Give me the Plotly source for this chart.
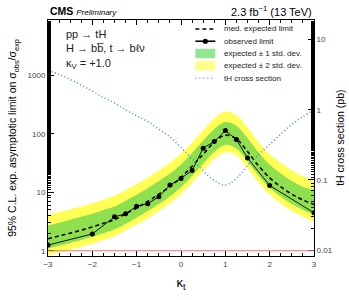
import plotly.graph_objects as go

# ---- data ----
kt_grid = [-3, -2.75, -2.5, -2.25, -2, -1.75, -1.5, -1.25, -1, -0.75, -0.5, -0.25, 0,
           0.25, 0.5, 0.75, 1, 1.25, 1.5, 1.75, 2, 2.25, 2.5, 2.75, 3]
exp_median = [1.6, 1.8, 2.0, 2.25, 2.55, 2.95, 3.4, 4.3, 5.4, 7.0, 9.3, 12.5, 18,
              28, 45, 72, 95, 82, 50, 28.4, 17.7, 12.5, 9.3, 7.4, 6.2]
exp_up1 = [2.7, 3.0, 3.4, 3.8, 4.3, 5.0, 5.7, 7.2, 9.1, 11.8, 15.6, 21, 30,
           47, 76, 121, 160, 138, 84, 48, 30, 21, 15.6, 12.4, 11.0]
exp_up2 = [4.1, 4.6, 5.1, 5.7, 6.5, 7.5, 8.7, 11, 13.8, 17.9, 23.7, 32, 46,
           71, 115, 184, 242, 209, 128, 72, 45, 32, 23.7, 18.9, 15.8]
exp_dn1 = [1.09, 1.22, 1.36, 1.53, 1.73, 2.0, 2.3, 2.9, 3.7, 4.8, 6.3, 8.5, 12.2,
           19, 31, 49, 65, 56, 34, 19.3, 12, 8.5, 6.3, 5.0, 4.2]
exp_dn2 = [0.83, 0.94, 1.04, 1.17, 1.33, 1.53, 1.77, 2.24, 2.8, 3.6, 4.8, 6.5, 9.4,
           14.6, 23.4, 37, 49, 43, 26, 14.8, 9.2, 6.5, 4.8, 3.85, 3.1]
th_xsec = [3.6, 3.2, 2.7, 2.25, 1.85, 1.5, 1.25, 1.0, 0.82, 0.68, 0.53, 0.41, 0.29,
           0.20, 0.135, 0.098, 0.085, 0.105, 0.16, 0.23, 0.32, 0.45, 0.62, 0.8, 1.0]
obs_kt = [-3, -2, -1.5, -1.25, -1, -0.75, -0.5, -0.25, 0, 0.25, 0.5, 0.75, 1, 1.25, 1.5, 2, 3]
obs_limit = [1.25, 1.94, 3.8, 4.3, 5.8, 6.4, 8.4, 13.3, 17.3, 23.6, 57, 74, 114, 80, 38.7, 13.1, 4.46]
x_ticks = [-3, -2, -1, 0, 1, 2, 3]
y_ticks = [1, 10, 100, 1000]
y2_ticks = [0.01, 0.1, 1, 10]
legend_labels = ["med. expected limit", "observed limit", "expected \u00b1 1 std. dev.",
                 "expected \u00b1 2 std. dev.", "tH cross section"]

YELLOW = "#ffff55"
GREEN = "#8fe04f"
LEG_YELLOW = "#ffff88"
LEG_GREEN = "#92e892"
BLUE = "#4a8fd0"
FONT = "Liberation Sans, Arial, sans-serif"

fig = go.Figure()
# 2 sigma band
fig.add_trace(go.Scatter(x=kt_grid, y=exp_dn2, mode="lines", line=dict(width=0, shape="spline"),
                         showlegend=False, hoverinfo="skip"))
fig.add_trace(go.Scatter(x=kt_grid, y=exp_up2, mode="lines", line=dict(width=0, shape="spline"),
                         fill="tonexty", fillcolor=YELLOW, showlegend=False))
# 1 sigma band
fig.add_trace(go.Scatter(x=kt_grid, y=exp_dn1, mode="lines", line=dict(width=0, shape="spline"),
                         showlegend=False, hoverinfo="skip"))
fig.add_trace(go.Scatter(x=kt_grid, y=exp_up1, mode="lines", line=dict(width=0, shape="spline"),
                         fill="tonexty", fillcolor=GREEN, showlegend=False))
# median expected
fig.add_trace(go.Scatter(x=kt_grid, y=exp_median, mode="lines",
                         line=dict(color="black", width=1.6, dash="4px,3px", shape="spline"),
                         showlegend=False))
# observed
fig.add_trace(go.Scatter(x=obs_kt, y=obs_limit, mode="lines+markers",
                         line=dict(color="black", width=0.9),
                         marker=dict(color="black", size=5, symbol="circle"),
                         showlegend=False))
# tH cross section (right axis)
fig.add_trace(go.Scatter(x=kt_grid, y=th_xsec, mode="lines", yaxis="y2",
                         line=dict(color=BLUE, width=1.6, dash="1px,2.5px", shape="spline"),
                         showlegend=False))

fig.add_shape(type="line", xref="x", yref="y", x0=-3, x1=3, y0=1, y1=1,
              line=dict(color="#e07a7a", width=1.2))

# ---- manual legend (paper coordinates) ----
lx0, lx1, ltx = 0.554, 0.629, 0.655
rows = [0.962, 0.910, 0.858, 0.806, 0.754]
annots = []
fig.add_shape(type="line", xref="paper", yref="paper", x0=lx0, x1=lx1, y0=rows[0], y1=rows[0],
              line=dict(color="black", width=1.6, dash="4px,3px"))
fig.add_shape(type="line", xref="paper", yref="paper", x0=lx0, x1=lx1, y0=rows[1], y1=rows[1],
              line=dict(color="black", width=1.6))
fig.add_shape(type="circle", xref="paper", yref="paper", fillcolor="black", line=dict(width=0),
              x0=(lx0 + lx1) / 2 - 0.01, x1=(lx0 + lx1) / 2 + 0.01,
              y0=rows[1] - 0.011, y1=rows[1] + 0.011)
fig.add_shape(type="rect", xref="paper", yref="paper", x0=lx0, x1=lx1,
              y0=rows[2] - 0.02, y1=rows[2] + 0.02, fillcolor=LEG_GREEN, line=dict(width=0))
fig.add_shape(type="rect", xref="paper", yref="paper", x0=lx0, x1=lx1,
              y0=rows[3] - 0.02, y1=rows[3] + 0.02, fillcolor=LEG_YELLOW, line=dict(width=0))
fig.add_shape(type="line", xref="paper", yref="paper", x0=lx0, x1=lx1, y0=rows[4], y1=rows[4],
              line=dict(color=BLUE, width=1.3, dash="1px,3px"))
for lab, ry in zip(legend_labels, rows):
    annots.append(dict(text=lab, xref="paper", yref="paper", x=ltx, y=ry, xanchor="left",
                       yanchor="middle", showarrow=False, font=dict(size=8, color="#222")))

axis_common = dict(showline=True, linecolor="black", linewidth=1, ticks="inside",
                   tickcolor="black", showgrid=False, zeroline=False,
                   tickfont=dict(size=8, color="#444", family=FONT))

fig.update_layout(
    width=349, height=300,
    margin=dict(l=47, r=35, t=20, b=42),
    paper_bgcolor="white", plot_bgcolor="white",
    font=dict(family=FONT, color="black"),
    showlegend=False,
    hovermode=False,
    xaxis=dict(range=[-3, 3], tickvals=x_ticks, ticklen=5, mirror="ticks",
               minor=dict(ticks="inside", ticklen=3, dtick=0.25, tickcolor="black"),
               title=dict(text="\u03ba<sub>t</sub>", font=dict(size=13, color="black"), standoff=10),
               **axis_common),
    yaxis=dict(type="log", range=[-0.09, 3.95], tickvals=y_ticks, ticktext=["1", "10", "100", "1000"],
               ticklen=6, minor=dict(ticks="inside", ticklen=3, tickcolor="black"),
               title=dict(text="95% C.L. exp. asymptotic limit on \u03c3<sub>obs</sub>/\u03c3<sub>exp</sub>",
                          font=dict(size=10.5, color="black"), standoff=8),
               **axis_common),
    yaxis2=dict(type="log", range=[-2.085, 1.28], overlaying="y", side="right",
                tickvals=y2_ticks, ticktext=["0.01", "0.1", "1", "10"], ticklen=6,
                minor=dict(ticks="inside", ticklen=3, tickcolor="black"),
                **axis_common),
    annotations=annots + [
        dict(text="<b>CMS</b> <i><span style='font-size:8px'>Preliminary</span></i>",
             xref="paper", yref="paper", x=0.0, y=1.0, xanchor="left", yanchor="bottom",
             showarrow=False, font=dict(size=10.5, color="black"), yshift=1),
        dict(text="2.3 fb<sup>\u22121</sup> (13 TeV)", xref="paper", yref="paper",
             x=1.0, y=1.0, xanchor="right", yanchor="bottom", showarrow=False,
             font=dict(size=11, color="black"), yshift=0),
        dict(text="pp \u2192 tH<br>H \u2192 bb\u0305, t \u2192 b\u2113\u03bd<br>\u03ba<sub>V</sub> = +1.0",
             xref="paper", yref="paper", x=0.06, y=0.975, xanchor="left", yanchor="top",
             align="left", showarrow=False, font=dict(size=11, color="#222")),
        dict(text="tH cross section (pb)", xref="paper", yref="paper", x=1.097, y=0.5,
             xanchor="center", yanchor="middle", textangle=-90, showarrow=False,
             font=dict(size=10.5, color="black")),
    ],
)

fig.write_html("out.html", config={"displayModeBar": False},
               post_script="document.body.style.margin='0px';document.body.style.overflow='hidden';")
